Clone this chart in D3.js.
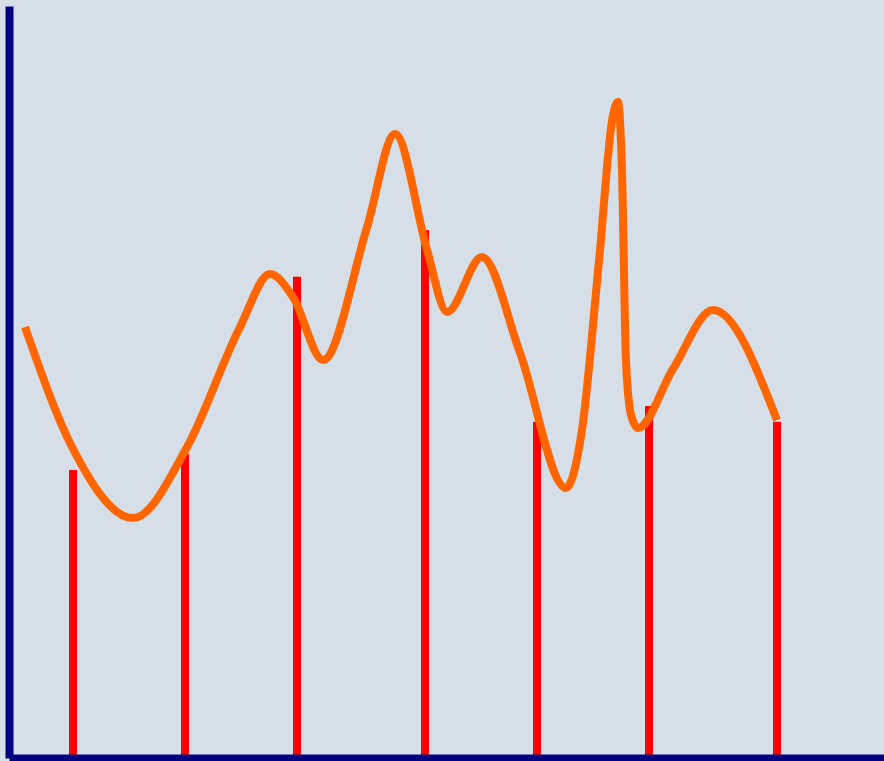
<!DOCTYPE html>
<html>
<head>
<meta charset="utf-8">
<script src="https://cdn.jsdelivr.net/npm/d3@7"></script>
<style>
  html, body { margin: 0; padding: 0; background: #d6dee8; overflow: hidden; }
  svg { display: block; }
</style>
</head>
<body>
<script>
// Bar series (x positions in units, heights in value units)
const barX = [4, 11, 18, 26, 33, 40, 48];
const barValues = [38.3, 40.4, 64.0, 70.2, 44.7, 46.8, 44.7];

// Curve series
const curveX = [1.0, 3.94, 7.75, 11.13, 14.44, 16.31, 17.75, 19.63, 22.38, 24.13, 26.13, 27.38,
  29.56, 31.94, 34.81, 35.81, 36.88, 37.75, 38.06, 38.31, 38.56, 38.88, 39.31, 41.5, 44.0, 48.0];
const curveY = [57.31, 41.36, 31.91, 41.36, 57.31, 64.36, 61.30, 52.93, 70.61, 82.98, 67.55, 59.31,
  66.62, 53.86, 35.90, 43.62, 66.22, 85.51, 87.23, 78.19, 52.93, 45.61, 43.88, 51.73, 59.57, 44.95];

const W = 884, H = 761;
const svg = d3.select("body").append("svg").attr("width", W).attr("height", H);
svg.append("rect").attr("width", W).attr("height", H).attr("fill", "#d6dee8");

const x = d3.scaleLinear().domain([0, 55]).range([9, 889]);
const y = d3.scaleLinear().domain([0, 100]).range([758, 6]);

// bars
svg.append("g").selectAll("rect").data(barX).join("rect")
  .attr("x", (d) => x(d) - 4)
  .attr("width", 8)
  .attr("y", (d, i) => y(barValues[i]))
  .attr("height", (d, i) => y(0) - y(barValues[i]))
  .attr("fill", "#ff0000");

// curve
const pts = curveX.map((d, i) => [d, curveY[i]]);
const line = d3.line().x(d => x(d[0])).y(d => y(d[1])).curve(d3.curveMonotoneX);
svg.append("path").datum(pts)
  .attr("d", line)
  .attr("fill", "none")
  .attr("stroke", "#ff6600")
  .attr("stroke-width", 8)
  .attr("stroke-linejoin", "round");

// axes
const yAxis = d3.axisLeft(y).ticks(0).tickSizeOuter(0);
const xAxis = d3.axisBottom(x).ticks(0).tickSizeOuter(0);
const gy = svg.append("g").attr("transform", `translate(${x(0)},0)`).call(yAxis);
gy.select(".domain").attr("stroke", "#000080").attr("stroke-width", 8);
const gx = svg.append("g").attr("transform", `translate(0,${y(0)})`).call(xAxis);
gx.select(".domain").attr("stroke", "#000080").attr("stroke-width", 8);
</script>
</body>
</html>
